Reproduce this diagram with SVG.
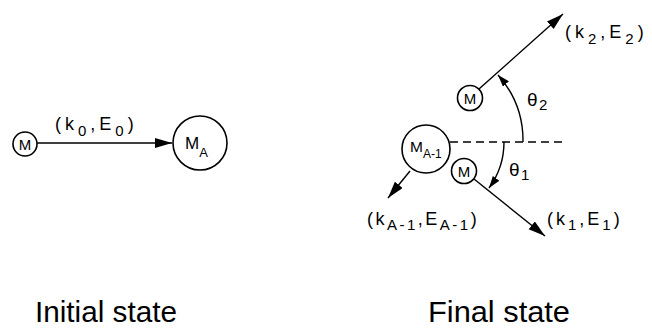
<svg xmlns="http://www.w3.org/2000/svg" width="652" height="329" viewBox="0 0 652 329">
<style>
.node{fill:none;stroke:#000;stroke-width:1.6}
.edge{fill:none;stroke:#000;stroke-width:1.4}
.dash{fill:none;stroke:#000;stroke-width:1.3;stroke-dasharray:8 5}
text{font-family:"Liberation Sans",Arial,sans-serif;fill:#000}
.lbl{font-size:18px;letter-spacing:4px}
.th{font-size:19px;letter-spacing:1.5px}
.sub{font-size:15px}
.m{font-size:15px}
.title{font-size:30px}
</style>
<defs>
<marker id="ah" markerUnits="userSpaceOnUse" markerWidth="18" markerHeight="12" refX="17" refY="5" orient="auto">
<path d="M0,0 L17,5 L0,10 z" fill="#000"/>
</marker>
<marker id="ahs" markerUnits="userSpaceOnUse" markerWidth="14" markerHeight="10" refX="12" refY="4" orient="auto">
<path d="M0,0 L12,4 L0,8 z" fill="#000"/>
</marker>
</defs>
<rect width="652" height="329" fill="#fff"/>
<g id="connectors">
<line class="edge" x1="37" y1="143" x2="172" y2="143" marker-end="url(#ah)"/>
<line class="edge" x1="479" y1="89" x2="563" y2="14" marker-end="url(#ah)"/>
<line class="edge" x1="410" y1="171" x2="388" y2="198" marker-end="url(#ah)"/>
<line class="edge" x1="474" y1="179" x2="545" y2="236" marker-end="url(#ah)"/>
<line class="dash" x1="450" y1="142" x2="562" y2="142"/>
<path class="edge" d="M523,142 A99,99 0 0 0 498,75" marker-end="url(#ahs)"/>
<path class="edge" d="M504,142 A78,78 0 0 1 489,188" marker-end="url(#ahs)"/>
</g>
<g id="m-initial">
<circle class="node" cx="25" cy="144" r="12"/>
<text class="m" x="25" y="149.5" text-anchor="middle">M</text>
</g>
<g id="ma">
<circle class="node" cx="200" cy="143" r="27"/>
<text x="185" y="149" style="font-size:17px">M<tspan style="font-size:13px" dy="8">A</tspan></text>
</g>
<g id="label-k0">
<text class="lbl" x="55" y="130">(k<tspan class="sub" dy="6">0</tspan><tspan dy="-6">,E</tspan><tspan class="sub" dy="6">0</tspan><tspan dy="-6">)</tspan></text>
</g>
<g id="m-upper">
<circle class="node" cx="470" cy="98" r="12.5"/>
<text class="m" x="470" y="103.5" text-anchor="middle">M</text>
</g>
<g id="label-k2">
<text class="lbl" x="565" y="38">(k<tspan class="sub" dy="6">2</tspan><tspan dy="-6">,E</tspan><tspan class="sub" dy="6">2</tspan><tspan dy="-6">)</tspan></text>
</g>
<g id="theta2">
<text class="th" x="527" y="106">θ<tspan class="sub" dy="4">2</tspan></text>
</g>
<g id="ma1">
<circle class="node" cx="426" cy="149" r="24"/>
<text x="410" y="152" style="font-size:15.5px">M<tspan style="font-size:12px" dy="6">A-1</tspan></text>
</g>
<g id="m-lower">
<circle class="node" cx="464" cy="171" r="12.5"/>
<text class="m" x="464" y="176.5" text-anchor="middle">M</text>
</g>
<g id="theta1">
<text class="th" x="509" y="176">θ<tspan class="sub" dy="4">1</tspan></text>
</g>
<g id="label-ka1">
<text class="lbl" x="367" y="225" style="letter-spacing:2.5px">(k<tspan class="sub" dy="5">A-1</tspan><tspan dy="-5">,E</tspan><tspan class="sub" dy="5">A-1</tspan><tspan dy="-5">)</tspan></text>
</g>
<g id="label-k1">
<text class="lbl" x="547" y="225" style="letter-spacing:3px">(k<tspan class="sub" dy="5">1</tspan><tspan dy="-5">,E</tspan><tspan class="sub" dy="5">1</tspan><tspan dy="-5">)</tspan></text>
</g>
<g id="titles">
<text class="title" x="35" y="322" textLength="142" lengthAdjust="spacingAndGlyphs">Initial state</text>
<text class="title" x="428" y="322" textLength="142" lengthAdjust="spacingAndGlyphs">Final state</text>
</g>
</svg>
